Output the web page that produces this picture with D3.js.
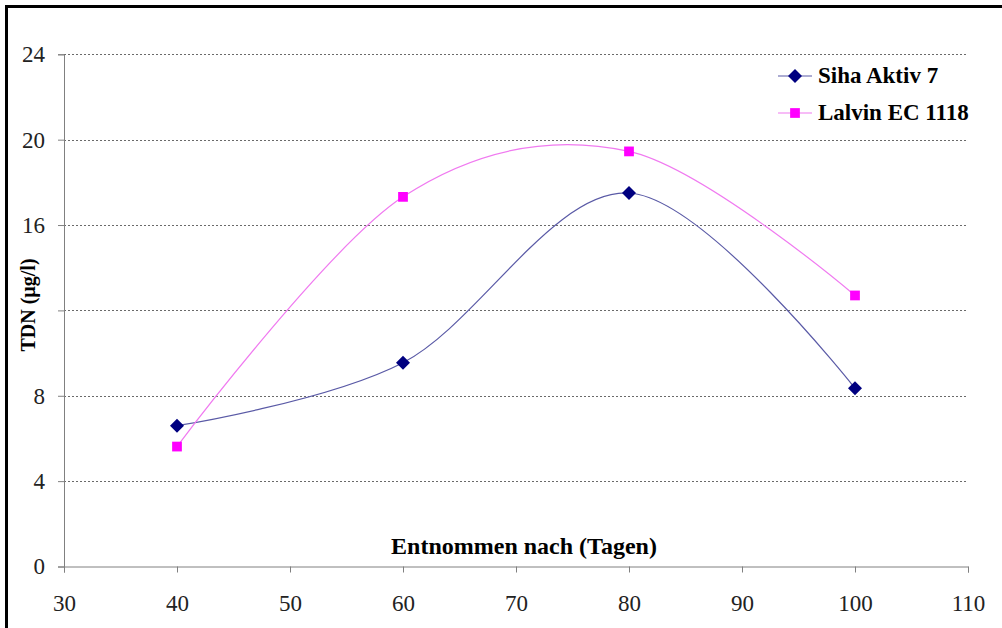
<!DOCTYPE html>
<html>
<head>
<meta charset="utf-8">
<script src="https://cdn.jsdelivr.net/npm/d3@7"></script>
<style>
  html, body { margin: 0; padding: 0; background: #fff; }
  svg { display: block; }
  text { font-family: "Liberation Serif", "Times New Roman", serif; }
</style>
</head>
<body>
<svg id="chart" width="1002" height="628"></svg>
<script>
// Sampling days and TDN concentrations (µg/l) for the two yeast strains
const days = [40, 60, 80, 100];
const sihaAktiv7 = [6.6, 9.55, 17.5, 8.35];
const lalvinEC1118 = [5.62, 17.32, 19.45, 12.7];
const seriesNames = ["Siha Aktiv 7", "Lalvin EC 1118"];
const xTicks = [30, 40, 50, 60, 70, 80, 90, 100, 110];
const yTicks = [0, 4, 8, 12, 16, 20, 24];
const yTickLabels = ["0", "4", "8", "", "16", "20", "24"];

const svg = d3.select("#chart");
const W = 1002, H = 628;
const plot = { left: 64, right: 968, top: 54.3, bottom: 566.5 };

const x = d3.scaleLinear().domain([30, 110]).range([plot.left, plot.right]);
const y = d3.scaleLinear().domain([0, 24]).range([plot.bottom, plot.top]);

// outer frame (top and left edges)
svg.append("line").attr("x1", 6.5).attr("x2", W).attr("y1", 6.5).attr("y2", 6.5)
  .attr("stroke", "#000").attr("stroke-width", 3);
svg.append("line").attr("x1", 6.5).attr("x2", 6.5).attr("y1", 5).attr("y2", H)
  .attr("stroke", "#000").attr("stroke-width", 3);

// dotted horizontal gridlines
svg.append("g").selectAll("line")
  .data(yTicks.filter(d => d > 0))
  .join("line")
  .attr("x1", plot.left).attr("x2", plot.right)
  .attr("y1", d => Math.round(y(d)) + 0.5).attr("y2", d => Math.round(y(d)) + 0.5)
  .attr("stroke", "#6a6a6a").attr("stroke-width", 1)
  .attr("stroke-dasharray", "2,2");

// y axis
const yAxis = d3.axisLeft(y).tickValues(yTicks)
  .tickFormat((d, i) => yTickLabels[i]).tickSize(6).tickPadding(13);
const gy = svg.append("g").attr("transform", `translate(${plot.left},0)`).call(yAxis);
gy.attr("font-family", null);
gy.select(".domain").attr("stroke", "#808080");
gy.selectAll(".tick line").attr("stroke", "#808080");
gy.selectAll(".tick text").attr("font-size", 23).attr("fill", "#222");

// x axis
const xAxis = d3.axisBottom(x).tickValues(xTicks).tickSize(6).tickPadding(22);
const gx = svg.append("g").attr("transform", `translate(0,${plot.bottom})`).call(xAxis);
gx.attr("font-family", null);
gx.select(".domain").attr("stroke", "#808080");
gx.selectAll(".tick line").attr("stroke", "#808080");
gx.selectAll(".tick text").attr("font-size", 23).attr("fill", "#222");

// axis titles
svg.append("text")
  .attr("x", 524).attr("y", 554)
  .attr("text-anchor", "middle")
  .attr("font-size", 24).attr("font-weight", "bold").attr("fill", "#000")
  .text("Entnommen nach (Tagen)");
svg.append("text")
  .attr("transform", "translate(35,305) rotate(-90)")
  .attr("text-anchor", "middle")
  .attr("font-size", 20).attr("font-weight", "bold").attr("fill", "#000")
  .text("TDN (µg/l)");

// smoothed series lines
const line = d3.line()
  .x((d, i) => x(days[i]))
  .y(d => y(d))
  .curve(d3.curveCardinal.tension(0));

// diamond marker: a square turned by 45°
const series = [
  { name: seriesNames[0], values: sihaAktiv7, line: "#5a5aa6", fill: "#000080", shape: d3.symbolSquare, size: 98, rot: 45 },
  { name: seriesNames[1], values: lalvinEC1118, line: "#f07af0", fill: "#ff00ff", shape: d3.symbolSquare, size: 95, rot: 0 }
];

series.forEach(s => {
  svg.append("path")
    .attr("d", line(s.values))
    .attr("fill", "none")
    .attr("stroke", s.line)
    .attr("stroke-width", 1.2);
  svg.append("g").selectAll("path")
    .data(s.values)
    .join("path")
    .attr("transform", (d, i) => `translate(${x(days[i])},${y(d)}) rotate(${s.rot})`)
    .attr("d", d3.symbol().type(s.shape).size(s.size))
    .attr("fill", s.fill);
});

// legend
const legend = svg.append("g").attr("transform", "translate(778,0)");
series.forEach((s, i) => {
  const ly = 76 + i * 37;
  legend.append("line").attr("x1", 0).attr("x2", 34).attr("y1", ly).attr("y2", ly)
    .attr("stroke", s.line).attr("stroke-width", 1.2);
  legend.append("path")
    .attr("transform", `translate(17,${ly}) rotate(${s.rot})`)
    .attr("d", d3.symbol().type(s.shape).size(s.size))
    .attr("fill", s.fill);
  legend.append("text")
    .attr("x", 40).attr("y", ly + 7)
    .attr("font-size", 23).attr("font-weight", "bold").attr("fill", "#000")
    .text(s.name);
});
</script>
</body>
</html>
